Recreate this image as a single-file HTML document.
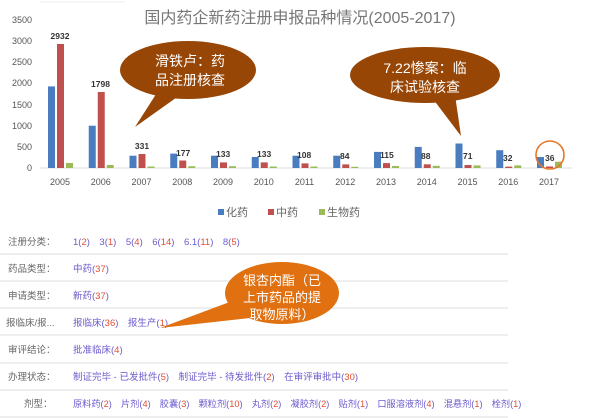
<!DOCTYPE html>
<html><head><meta charset="utf-8"><style>
body{margin:0;background:#fff;width:613px;height:418px;overflow:hidden}
svg{display:block}
text{font-family:"Liberation Sans","Noto Sans CJK SC",sans-serif}
</style></head><body>
<svg width="613" height="418" viewBox="0 0 613 418">
<line x1="40" y1="2" x2="125" y2="2" stroke="#eee"/>
<text x="300" y="23" font-size="16" fill="#777" text-anchor="middle">国内药企新药注册申报品种情况(2005-2017)</text>
<g font-size="9" fill="#555" text-anchor="end">
<text x="32" y="23">3500</text><text x="32" y="44">3000</text><text x="32" y="65">2500</text><text x="32" y="86">2000</text><text x="32" y="108">1500</text><text x="32" y="129">1000</text><text x="32" y="150">500</text><text x="32" y="171">0</text>
</g>
<line x1="40" y1="168" x2="572" y2="168" stroke="#ddd"/>
<g fill="#4a7cc0">
<rect x="48" y="86.4" width="7" height="81.6"/><rect x="88.75" y="125.7" width="7" height="42.3"/><rect x="129.5" y="155.7" width="7" height="12.3"/><rect x="170.25" y="153.6" width="7" height="14.4"/><rect x="211" y="155.7" width="7" height="12.3"/><rect x="251.75" y="157" width="7" height="11"/><rect x="292.5" y="155.7" width="7" height="12.3"/><rect x="333.25" y="155.7" width="7" height="12.3"/><rect x="374" y="151.9" width="7" height="16.1"/><rect x="414.75" y="146.9" width="7" height="21.1"/><rect x="455.5" y="143.5" width="7" height="24.5"/><rect x="496.25" y="150.2" width="7" height="17.8"/><rect x="537" y="157" width="7" height="11"/>
</g>
<g fill="#c0504d">
<rect x="57" y="44" width="7" height="124"/><rect x="97.75" y="92" width="7" height="76"/><rect x="138.5" y="154" width="7" height="14"/><rect x="179.25" y="160.5" width="7" height="7.5"/><rect x="220" y="162.4" width="7" height="5.6"/><rect x="260.75" y="162.4" width="7" height="5.6"/><rect x="301.5" y="163.4" width="7" height="4.6"/><rect x="342.25" y="164.4" width="7" height="3.6"/><rect x="383" y="163.1" width="7" height="4.9"/><rect x="423.75" y="164.3" width="7" height="3.7"/><rect x="464.5" y="165" width="7" height="3"/><rect x="505.25" y="166.6" width="7" height="1.4"/><rect x="546" y="166.5" width="7" height="1.5"/>
</g>
<g fill="#9bbb59">
<rect x="66" y="163" width="7" height="5"/><rect x="106.75" y="165" width="7" height="3"/><rect x="147.5" y="166.5" width="7" height="1.5"/><rect x="188.25" y="166.2" width="7" height="1.8"/><rect x="229" y="166.2" width="7" height="1.8"/><rect x="269.75" y="166.5" width="7" height="1.5"/><rect x="310.5" y="166.5" width="7" height="1.5"/><rect x="351.25" y="166.8" width="7" height="1.2"/><rect x="392" y="166" width="7" height="2"/><rect x="432.75" y="165.8" width="7" height="2.2"/><rect x="473.5" y="165.4" width="7" height="2.6"/><rect x="514.25" y="165.4" width="7" height="2.6"/><rect x="555" y="161.7" width="7" height="6.3"/>
</g>
<g font-size="8.5" fill="#333" font-weight="bold">
<text x="60" y="39" text-anchor="middle">2932</text><text x="100.5" y="87" text-anchor="middle">1798</text><text x="142" y="149" text-anchor="middle">331</text>
<text x="176" y="156">177</text><text x="216" y="157">133</text><text x="257" y="157">133</text><text x="297" y="158">108</text><text x="340" y="159">84</text><text x="380" y="158">115</text><text x="421" y="159">88</text><text x="463" y="159">71</text><text x="503" y="161">32</text><text x="545" y="161">36</text>
</g>
<g font-size="9" fill="#555" text-anchor="middle">
<text x="60" y="185">2005</text><text x="100.75" y="185">2006</text><text x="141.5" y="185">2007</text><text x="182.25" y="185">2008</text><text x="223" y="185">2009</text><text x="263.75" y="185">2010</text><text x="304.5" y="185">2011</text><text x="345.25" y="185">2012</text><text x="386" y="185">2013</text><text x="426.75" y="185">2014</text><text x="467.5" y="185">2015</text><text x="508.25" y="185">2016</text><text x="549" y="185">2017</text>
</g>
<g font-size="11" fill="#666">
<rect x="218" y="209" width="6" height="6" fill="#4a7cc0"/><text x="226" y="216">化药</text>
<rect x="268" y="209" width="6" height="6" fill="#c0504d"/><text x="276" y="216">中药</text>
<rect x="319" y="209" width="6" height="6" fill="#9bbb59"/><text x="327" y="216">生物药</text>
</g>
<circle cx="550" cy="155" r="14" fill="none" stroke="#e8772a" stroke-width="1.6"/>
<g fill="#974606">
<ellipse cx="188" cy="70" rx="68" ry="29"/><polygon points="160,88 180,95 135,127"/>
<ellipse cx="425" cy="75" rx="75" ry="28"/><polygon points="430,95 455,95 461,136"/>
</g>
<g fill="#fff" font-size="14" text-anchor="middle">
<text x="190" y="66">滑铁卢：药</text><text x="190" y="85">品注册核查</text>
<text x="425" y="73">7.22惨案：临</text><text x="425" y="92">床试验核查</text>
</g>
<g stroke="#e4e4e4" stroke-width="1.2">
<line x1="0" y1="254" x2="508" y2="254"/><line x1="0" y1="281" x2="508" y2="281"/><line x1="0" y1="308" x2="508" y2="308"/><line x1="0" y1="335" x2="508" y2="335"/><line x1="0" y1="363" x2="508" y2="363"/><line x1="0" y1="390" x2="508" y2="390"/><line x1="0" y1="417" x2="508" y2="417"/>
</g>
<g font-size="9.5" fill="#666">
<text x="8" y="245">注册分类：</text><text x="8" y="272">药品类型：</text><text x="8" y="299">申请类型：</text><text x="6" y="326">报临床/报...</text><text x="8" y="353">审评结论：</text><text x="8" y="380">办理状态：</text><text x="24" y="407">剂型：</text>
</g>
<g font-size="9.5" fill="#6a5acd">
<text x="73" y="245">1(<tspan fill="#e05030">2</tspan>)　3(<tspan fill="#e05030">1</tspan>)　5(<tspan fill="#e05030">4</tspan>)　6(<tspan fill="#e05030">14</tspan>)　6.1(<tspan fill="#e05030">11</tspan>)　8(<tspan fill="#e05030">5</tspan>)</text>
<text x="73" y="272">中药(<tspan fill="#e05030">37</tspan>)</text>
<text x="73" y="299">新药(<tspan fill="#e05030">37</tspan>)</text>
<text x="73" y="326">报临床(<tspan fill="#e05030">36</tspan>)　报生产(<tspan fill="#e05030">1</tspan>)</text>
<text x="73" y="353">批准临床(<tspan fill="#e05030">4</tspan>)</text>
<text x="73" y="380">制证完毕 - 已发批件(<tspan fill="#e05030">5</tspan>)　制证完毕 - 待发批件(<tspan fill="#e05030">2</tspan>)　在审评审批中(<tspan fill="#e05030">30</tspan>)</text>
<text x="73" y="407" font-size="9.2">原料药(<tspan fill="#e05030">2</tspan>)　片剂(<tspan fill="#e05030">4</tspan>)　胶囊(<tspan fill="#e05030">3</tspan>)　颗粒剂(<tspan fill="#e05030">10</tspan>)　丸剂(<tspan fill="#e05030">2</tspan>)　凝胶剂(<tspan fill="#e05030">2</tspan>)　贴剂(<tspan fill="#e05030">1</tspan>)　口服溶液剂(<tspan fill="#e05030">4</tspan>)　混悬剂(<tspan fill="#e05030">1</tspan>)　栓剂(<tspan fill="#e05030">1</tspan>)</text>
</g>
<g fill="#e07010">
<ellipse cx="282" cy="293" rx="57" ry="31"/><polygon points="235,300 250,318 160,328"/>
</g>
<g fill="#fff" font-size="13" text-anchor="middle">
<text x="282" y="285">银杏内酯（已</text><text x="282" y="302">上市药品的提</text><text x="282" y="319">取物原料）</text>
</g>
</svg>
</body></html>
